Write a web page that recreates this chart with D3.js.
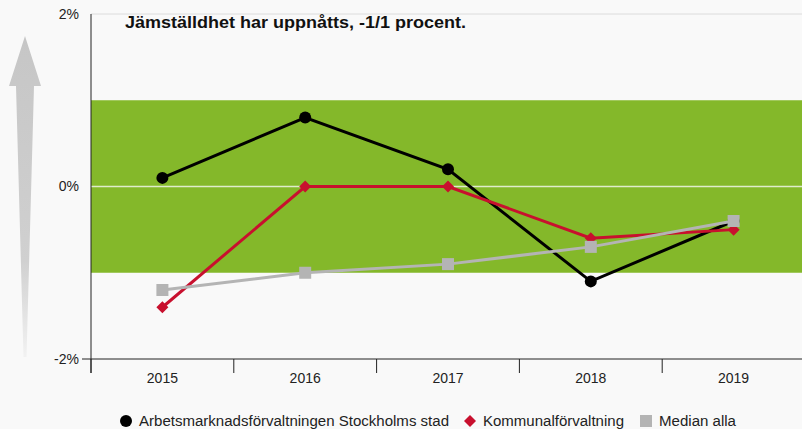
<!DOCTYPE html>
<html>
<head>
<meta charset="utf-8">
<script src="https://cdn.jsdelivr.net/npm/d3@7"></script>
<style>
  body { margin: 0; background: #f9f9f9; }
  text { font-family: "Liberation Sans", Arial, sans-serif; }
</style>
</head>
<body>
<div id="chart"></div>
<script>
// data
var years = ["2015", "2016", "2017", "2018", "2019"];
var arbetsmarknad = [0.1, 0.8, 0.2, -1.1, -0.4];
var kommunal = [-1.4, 0, 0, -0.6, -0.5];
var median = [-1.2, -1.0, -0.9, -0.7, -0.4];
var yTicks = [-2, 0, 2];
var targetBand = [-1, 1];
var title = "Jämställdhet har uppnåtts, -1/1 procent.";
var legendNames = ["Arbetsmarknadsförvaltningen Stockholms stad", "Kommunalförvaltning", "Median alla"];

var W = 802, H = 429;
var margin = {top: 14, right: 0, bottom: 70, left: 91};
var width = 805 - margin.left,
    height = H - margin.top - margin.bottom;

var svg = d3.select("#chart")
  .append("svg")
    .attr("width", W)
    .attr("height", H)
    .style("display", "block");

// gradient arrow on the left
var defs = svg.append("defs");
var grad = defs.append("linearGradient")
    .attr("id", "arrowGrad")
    .attr("x1", 0).attr("y1", 0).attr("x2", 0).attr("y2", 1);
grad.append("stop").attr("offset", "0%").attr("stop-color", "#c6c6c6");
grad.append("stop").attr("offset", "70%").attr("stop-color", "#d0d0d0");
grad.append("stop").attr("offset", "100%").attr("stop-color", "#f2f2f2");

svg.append("path")
  .attr("d", "M25,36 L41,86 L34,86 L26.5,357 L23.5,357 L16,86 L9,86 Z")
  .attr("fill", "url(#arrowGrad)");

var g = svg.append("g")
    .attr("transform", "translate(" + margin.left + "," + margin.top + ")");

var x = d3.scaleBand()
  .domain(years)
  .range([0, width]);

var y = d3.scaleLinear()
  .domain([-2, 2])
  .range([height, 0]);

// top grid line
g.append("line")
  .attr("x1", 0).attr("x2", width)
  .attr("y1", y(2)).attr("y2", y(2))
  .attr("stroke", "#dcdcdc");

// green target band
g.append("rect")
  .attr("x", 0)
  .attr("width", width)
  .attr("y", y(targetBand[1]))
  .attr("height", y(targetBand[0]) - y(targetBand[1]))
  .attr("fill", "#84b82a");

// zero line
g.append("line")
  .attr("x1", 0).attr("x2", width)
  .attr("y1", y(0)).attr("y2", y(0))
  .attr("stroke", "#dfeccb")
  .attr("stroke-width", 1.5);

// y axis labels
g.selectAll(".ylab")
  .data(yTicks)
  .enter()
  .append("text")
    .attr("x", -12)
    .attr("y", function(d) { return y(d); })
    .attr("dy", "0.35em")
    .attr("text-anchor", "end")
    .style("font-size", "14px")
    .style("fill", "#222")
    .text(function(d) { return d + "%"; });

// y axis line
g.append("line")
  .attr("x1", 0).attr("x2", 0)
  .attr("y1", 0).attr("y2", height + 14)
  .attr("stroke", "#222");

// x axis line
g.append("line")
  .attr("x1", -9).attr("x2", width)
  .attr("y1", height).attr("y2", height)
  .attr("stroke", "#222");

// category separators
g.selectAll(".sep")
  .data(years)
  .enter()
  .append("line")
    .attr("x1", function(d) { return x(d); })
    .attr("x2", function(d) { return x(d); })
    .attr("y1", height)
    .attr("y2", height + 14)
    .attr("stroke", "#222");

// year labels
g.selectAll(".xlab")
  .data(years)
  .enter()
  .append("text")
    .attr("x", function(d) { return x(d) + x.bandwidth() / 2; })
    .attr("y", height + 24)
    .attr("text-anchor", "middle")
    .style("font-size", "14px")
    .style("fill", "#222")
    .text(function(d) { return d; });

// title
svg.append("text")
  .attr("x", 125)
  .attr("y", 28)
  .attr("textLength", 341)
  .attr("lengthAdjust", "spacingAndGlyphs")
  .style("font-size", "16px")
  .style("font-weight", "bold")
  .style("fill", "#111")
  .text(title);

var cx = function(d, i) { return x(years[i]) + x.bandwidth() / 2; };
var line = d3.line()
  .x(function(d, i) { return cx(d, i); })
  .y(function(d) { return y(d); });

// black series
g.append("path")
  .datum(arbetsmarknad)
  .attr("fill", "none")
  .attr("stroke", "#000")
  .attr("stroke-width", 3)
  .attr("d", line);
g.selectAll(".dot")
  .data(arbetsmarknad)
  .enter()
  .append("circle")
    .attr("cx", cx)
    .attr("cy", function(d) { return y(d); })
    .attr("r", 6)
    .style("fill", "#000");

// red series
g.append("path")
  .datum(kommunal)
  .attr("fill", "none")
  .attr("stroke", "#c8102e")
  .attr("stroke-width", 3)
  .attr("d", line);
g.selectAll(".diamond")
  .data(kommunal)
  .enter()
  .append("path")
    .attr("transform", function(d, i) { return "translate(" + cx(d, i) + "," + y(d) + ")"; })
    .attr("d", "M0,-6 L6,0 L0,6 L-6,0 Z")
    .style("fill", "#c8102e");

// gray series
g.append("path")
  .datum(median)
  .attr("fill", "none")
  .attr("stroke", "#b4b4b4")
  .attr("stroke-width", 3)
  .attr("d", line);
g.selectAll(".square")
  .data(median)
  .enter()
  .append("rect")
    .attr("x", function(d, i) { return cx(d, i) - 6; })
    .attr("y", function(d) { return y(d) - 6; })
    .attr("width", 12)
    .attr("height", 12)
    .style("fill", "#b4b4b4");

// legend
var legend = svg.append("g");
var lx = [126, 470, 646];
var lw = [310, 141, 77];
var ly = 421;
legend.append("circle")
  .attr("cx", lx[0]).attr("cy", ly).attr("r", 6).style("fill", "#000");
legend.append("path")
  .attr("transform", "translate(" + lx[1] + "," + ly + ")")
  .attr("d", "M0,-6 L6,0 L0,6 L-6,0 Z")
  .style("fill", "#c8102e");
legend.append("rect")
  .attr("x", lx[2] - 6).attr("y", ly - 6).attr("width", 12).attr("height", 12)
  .style("fill", "#b4b4b4");
legend.selectAll(".ltext")
  .data(legendNames)
  .enter()
  .append("text")
    .attr("x", function(d, i) { return lx[i] + 13; })
    .attr("y", ly)
    .attr("dy", "0.35em")
    .attr("textLength", function(d, i) { return lw[i]; })
    .attr("lengthAdjust", "spacingAndGlyphs")
    .style("font-size", "14px")
    .style("fill", "#222")
    .text(function(d) { return d; });
</script>
</body>
</html>
